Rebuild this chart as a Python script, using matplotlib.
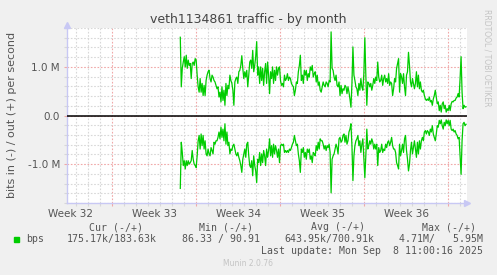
import numpy as np
import matplotlib
matplotlib.use("Agg")
import matplotlib.pyplot as plt

# traffic in Mbit/s, one sample about every 2 hours (out = +, in = -)
out_mbps = [
    1.61, 0.59, 0.97, 1.10, 1.21, 1.00, 1.24, 0.97, 1.14, 1.03,
    1.07, 0.76, 1.07, 1.10, 1.03, 1.17, 1.14, 0.83, 0.59, 0.48,
    0.76, 0.48, 0.66, 0.41, 0.62, 0.41, 0.72, 0.83, 0.90, 0.93,
    0.76, 0.69, 0.83, 0.79, 0.72, 0.69, 0.62, 0.55, 0.59, 0.38,
    0.48, 0.28, 0.59, 0.31, 0.52, 0.21, 0.66, 0.41, 0.62, 0.55,
    0.83, 0.72, 0.66, 0.52, 0.21, 0.69, 0.76, 0.79, 0.66, 0.90,
    0.93, 1.03, 1.23, 0.97, 0.76, 0.90, 0.79, 0.93,
    0.59, 0.83, 1.10, 1.14, 0.97, 1.34, 0.90, 1.03, 1.21, 1.52,
    0.83, 1.00, 0.66, 1.00, 0.72, 0.97, 0.62, 0.90, 1.07, 0.66,
    1.10, 0.83, 0.45, 0.90, 0.76, 1.00, 0.66, 0.93, 0.72, 1.00,
    0.83, 0.97, 1.00, 0.72, 0.62, 0.66, 0.59, 0.83, 0.72, 0.76,
    0.86, 0.72, 0.79, 0.76, 0.66, 0.62, 0.59, 0.41, 0.52, 0.69,
    0.66, 0.90, 1.03, 1.24, 0.72, 0.83, 0.66, 0.93, 0.83, 0.93,
    0.72, 0.86, 0.79, 1.00, 0.93, 1.03, 0.79, 0.86, 0.90, 0.69,
    0.83, 0.62, 0.69, 0.52,
    0.48, 0.59, 0.69, 0.62, 0.59, 0.69, 0.66, 0.59, 0.72, 0.69,
    1.72, 0.97, 0.93, 0.79, 0.72, 0.83, 0.62, 0.59, 0.69, 0.41,
    0.62, 0.45, 0.55, 0.52, 0.62, 0.59, 0.45, 0.59, 0.48, 0.34,
    0.17, 0.66, 1.41, 0.83, 0.72, 0.59, 0.55, 0.41, 0.66, 0.52,
    0.76, 0.59, 0.52, 0.86, 1.60, 0.83, 0.21, 0.69, 0.66, 0.59,
    0.66, 0.52, 0.62, 0.76, 0.66, 0.79, 0.72, 1.10, 0.79, 0.69,
    0.72, 0.83, 0.62, 0.76, 0.83, 0.69, 0.76, 0.66, 0.86, 0.62,
    0.69, 0.66, 0.41, 0.55,
    0.76, 0.69, 0.97, 1.07, 1.17, 0.48, 0.86, 0.79, 0.66, 0.86,
    0.59, 0.41, 0.83, 0.90, 1.30, 1.03, 0.69, 0.59, 0.76, 0.66,
    0.55, 0.66, 0.90, 0.59, 0.83, 0.55, 0.69, 0.52, 0.48, 0.52,
    0.41, 0.34, 0.31, 0.34, 0.31, 0.38, 0.28, 0.31, 0.21, 0.34,
    0.41, 0.52, 0.38, 0.24, 0.28, 0.10, 0.21, 0.07, 0.24, 0.28,
    0.14, 0.21, 0.07, 0.14, 0.10, 0.21, 0.10, 0.24, 0.29, 0.28,
    0.31, 0.31, 0.36, 0.38, 0.45, 0.38, 0.76, 1.21, 0.48, 0.14,
    0.21, 0.17, 0.18,
]
in_mbps = [
    1.50, 0.55, 0.76, 1.03, 0.93, 1.10, 0.93, 1.03, 0.93, 1.00,
    0.97, 0.93, 0.72, 0.90, 1.00, 1.03, 1.07, 0.83, 0.52, 0.41,
    0.69, 0.38, 0.62, 0.41, 0.69, 0.52, 0.79, 0.83, 0.69, 0.79,
    0.83, 0.66, 0.72, 0.79, 0.55, 0.59, 0.52, 0.52, 0.45, 0.34,
    0.48, 0.24, 0.45, 0.28, 0.52, 0.17, 0.59, 0.34, 0.62, 0.55,
    0.79, 0.69, 0.72, 0.62, 0.59, 0.69, 0.79, 0.83, 0.76, 0.86,
    0.93, 1.03, 1.17, 0.90, 0.79, 0.69, 0.86, 0.59,
    0.55, 0.83, 1.03, 1.07, 0.93, 1.24, 0.83, 1.03, 1.14, 1.38,
    0.90, 0.97, 0.76, 1.03, 0.79, 0.97, 0.72, 0.83, 1.03, 0.69,
    0.86, 0.72, 0.48, 0.83, 0.62, 0.86, 0.59, 0.79, 0.62, 0.72,
    0.86, 0.69, 0.97, 0.62, 0.59, 0.62, 0.59, 0.76, 0.72, 0.76,
    0.72, 0.76, 0.69, 0.72, 0.66, 0.59, 0.55, 0.41, 0.52, 0.62,
    0.59, 0.79, 0.93, 1.17, 0.69, 0.76, 0.66, 0.86, 0.76, 0.90,
    0.69, 0.76, 0.69, 0.90, 0.83, 0.97, 0.76, 0.79, 0.83, 0.62,
    0.72, 0.55, 0.69, 0.48,
    0.52, 0.52, 0.59, 0.69, 0.62, 0.72, 0.62, 0.66, 0.59, 0.76,
    1.59, 0.90, 0.83, 0.79, 0.69, 0.59, 0.66, 0.79, 0.48, 0.45,
    0.55, 0.52, 0.41, 0.38, 0.55, 0.41, 0.59, 0.52, 0.34, 0.28,
    0.17, 0.62, 1.34, 0.83, 0.62, 0.52, 0.48, 0.41, 0.62, 0.52,
    0.76, 0.59, 0.48, 0.90, 1.28, 0.83, 0.28, 0.69, 0.62, 0.52,
    0.59, 0.48, 0.55, 0.69, 0.59, 0.69, 0.59, 1.03, 0.66, 0.76,
    0.72, 0.59, 0.76, 0.69, 0.72, 0.59, 0.66, 0.55, 0.52, 0.62,
    0.55, 0.45, 0.62, 0.69,
    0.69, 0.76, 0.97, 1.03, 1.10, 0.59, 0.83, 0.72, 0.59, 0.76,
    0.48, 0.41, 0.72, 0.90, 1.14, 1.00, 0.72, 0.55, 0.79, 0.66,
    0.52, 0.69, 0.86, 0.55, 0.79, 0.52, 0.69, 0.52, 0.45, 0.52,
    0.34, 0.31, 0.38, 0.31, 0.34, 0.41, 0.28, 0.34, 0.21, 0.38,
    0.45, 0.52, 0.38, 0.21, 0.24, 0.10, 0.17, 0.09, 0.21, 0.28,
    0.14, 0.21, 0.09, 0.17, 0.10, 0.21, 0.10, 0.28, 0.31, 0.28,
    0.34, 0.31, 0.38, 0.41, 0.48, 0.45, 0.83, 1.21, 0.52, 0.17,
    0.14, 0.21, 0.18,
]

# time axis in days from the left edge of the graph
first_sample_day = 9.44
last_sample_day = 33.25
graph_days = 33.33
week_labels = ["Week 32", "Week 33", "Week 34", "Week 35", "Week 36"]
week_label_days = [0.3, 7.3, 14.3, 21.3, 28.3]
week_start_days = [3.75, 10.75, 17.75, 24.75, 31.75]

legend_head = ["Cur (-/+)", "Min (-/+)", "Avg (-/+)", "Max (-/+)"]
legend_vals = ["175.17k/183.63k", "86.33 / 90.91", "643.95k/700.91k", "4.71M/   5.95M"]
last_update = "Last update: Mon Sep  8 11:00:16 2025"

t = np.linspace(first_sample_day, last_sample_day, len(out_mbps))
out_bps = np.array(out_mbps) * 1e6
in_bps = np.array(in_mbps) * 1e6

W, H = 497, 275
bg = "#F0F0F0"
green = "#00CC00"
minor_c = "#D8D8D8"
major_c = "#F0A8A8"
axis_c = "#C8C8F4"
text_c = "#555555"

fig = plt.figure(figsize=(W / 100, H / 100), dpi=100, facecolor=bg)
ax = fig.add_axes([67 / W, (H - 203) / H, 400 / W, 175 / H])
ax.set_facecolor("white")

ax.set_xlim(0, graph_days)
ax.set_ylim(-1.8e6, 1.8e6)

# grid: days / 0.2M minor, weeks / 1M major
ax.set_xticks(np.arange(0.75, graph_days, 1.0), minor=True)
ax.set_xticks(week_start_days)
ax.set_xticklabels([])
ax.set_yticks(np.arange(-1.8e6, 1.81e6, 0.2e6), minor=True)
ax.set_yticks([-1e6, 0, 1e6])
ax.set_yticklabels(["-1.0 M", "0.0", "1.0 M"])
ax.grid(which="minor", color=minor_c, linestyle=(0, (1.5, 1.5)), linewidth=0.8)
ax.grid(which="major", color=major_c, linestyle=(0, (1.5, 1.5)), linewidth=0.8)
ax.tick_params(which="both", direction="out", length=2, width=0.8)
ax.tick_params(which="minor", color=minor_c)
ax.tick_params(which="major", color=major_c)
ax.tick_params(axis="y", labelsize=7.5, labelcolor=text_c, pad=3)
ax.set_axisbelow(True)

for side in ["top", "right"]:
    ax.spines[side].set_visible(False)
for side in ["left", "bottom"]:
    ax.spines[side].set_color(axis_c)
    ax.spines[side].set_linewidth(1)
ax.plot([1.0], [0], marker=">", color=axis_c, markersize=5, transform=ax.transAxes, clip_on=False)
ax.plot([0], [1.02], marker="^", color=axis_c, markersize=5, transform=ax.transAxes, clip_on=False)

for lab, d in zip(week_labels, week_label_days):
    ax.text(d, -0.035, lab, transform=ax.get_xaxis_transform(), ha="center", va="top",
            fontsize=7.5, color=text_c)

ax.axhline(0, color="black", linewidth=1.1, zorder=3)
ax.plot(t, out_bps, color=green, linewidth=0.9, zorder=4)
ax.plot(t, -in_bps, color=green, linewidth=0.9, zorder=4)

fig.text(248 / W, 1 - 19 / H, "veth1134861 traffic - by month", ha="center", va="center",
         fontsize=9.0, color="#444444")
fig.text(12 / W, 1 - 115 / H, "bits in (-) / out (+) per second", rotation=90,
         ha="center", va="center", fontsize=8.0, color=text_c)
fig.text(487 / W, 1 - 58 / H, "RRDTOOL / TOBI OETIKER", rotation=270, ha="center",
         va="center", fontsize=5.5, color="#C4C4C4")

mono = dict(family="DejaVu Sans Mono", fontsize=7.1, color=text_c, va="center")
head_right = [143, 253, 365, 476]
val_right = [157, 260, 374, 483]
for s, x in zip(legend_head, head_right):
    fig.text(x / W, 1 - 227 / H, s, ha="right", **mono)
fig.patches.append(plt.Rectangle((14 / W, 1 - 241.5 / H), 5 / W, 5 / H, color=green,
                                 transform=fig.transFigure, figure=fig))
fig.text(26 / W, 1 - 239 / H, "bps", ha="left", **mono)
for s, x in zip(legend_vals, val_right):
    fig.text(x / W, 1 - 239 / H, s, ha="right", **mono)
fig.text(483 / W, 1 - 251 / H, last_update, ha="right", **mono)
fig.text(248 / W, 1 - 264 / H, "Munin 2.0.76", ha="center", va="center", fontsize=5.5,
         color="#C4C4C4")

fig.savefig("out.png", dpi=100, facecolor=bg)
